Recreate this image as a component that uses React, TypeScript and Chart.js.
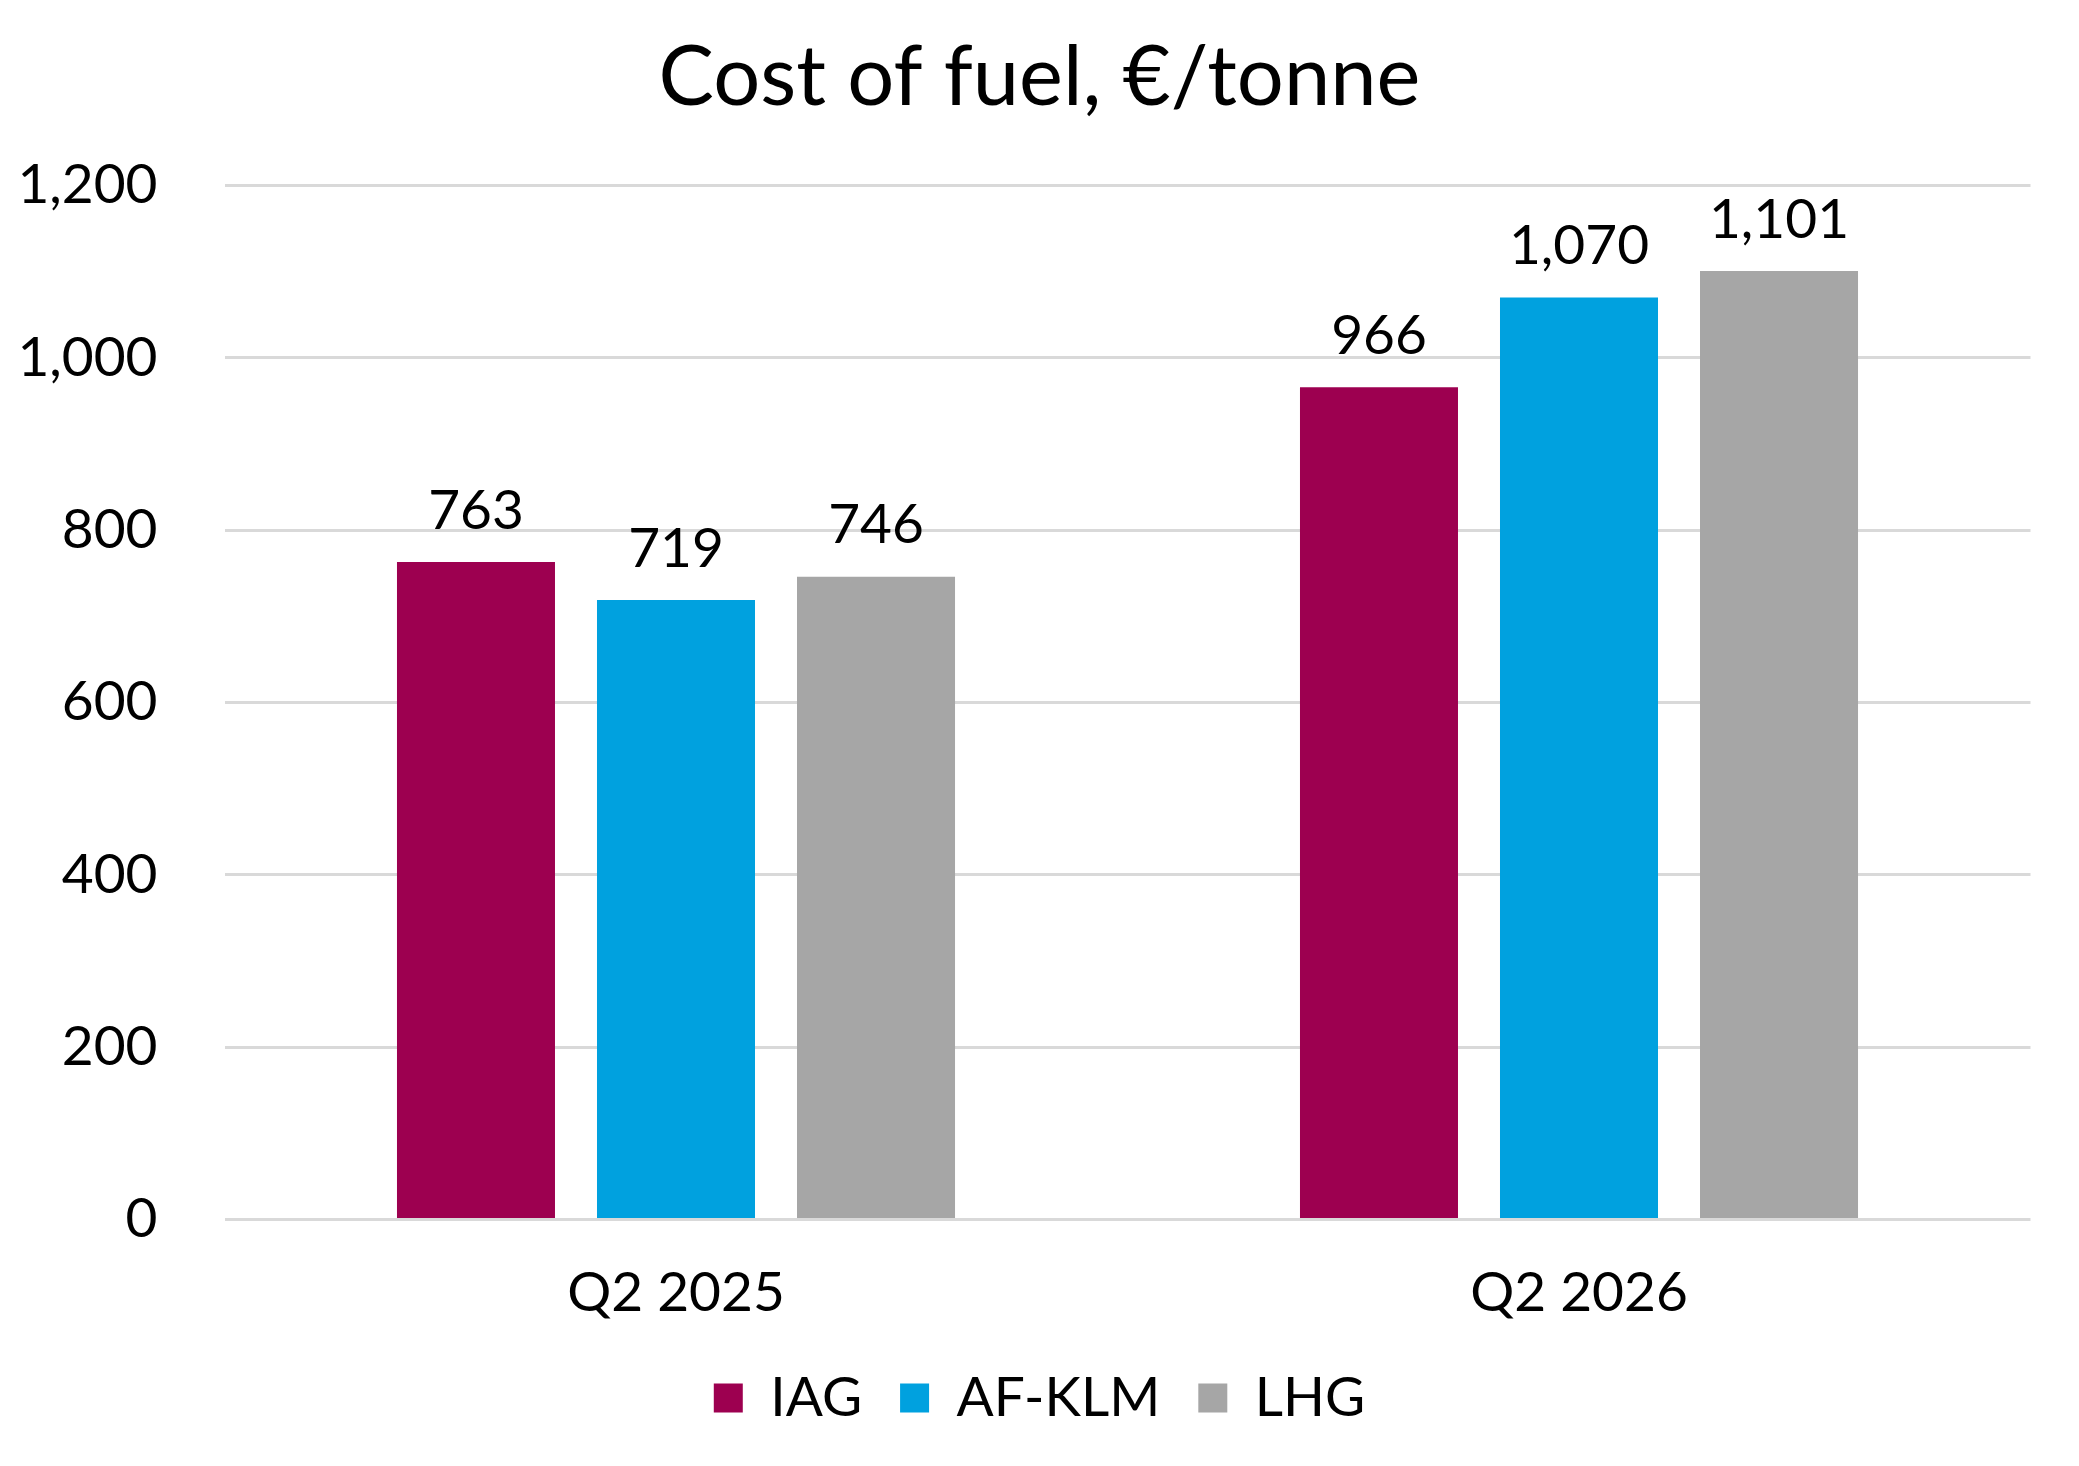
import { useEffect, useRef } from "react"
import { Chart, registerables } from "chart.js"
import type { Plugin } from "chart.js"

Chart.register(...registerables)

const quarters = ["Q2 2025", "Q2 2026"]
const iagCost = [763, 966]
const afKlmCost = [719, 1070]
const lhgCost = [746, 1101]
const yTicks = [0, 200, 400, 600, 800, 1000, 1200]

const FONT = "Lato, 'Noto Sans', sans-serif"

// draws the value above each bar, like Excel data labels
const valueLabels: Plugin<"bar"> = {
  id: "valueLabels",
  afterDatasetsDraw(chart) {
    const { ctx } = chart
    ctx.save()
    ctx.font = `55px ${FONT}`
    ctx.fillStyle = "#000"
    ctx.textAlign = "center"
    ctx.textBaseline = "middle"
    chart.data.datasets.forEach((ds, i) => {
      const meta = chart.getDatasetMeta(i)
      if (meta.hidden) return
      meta.data.forEach((bar, j) => {
        const v = ds.data[j] as number
        ctx.fillText(v.toLocaleString("en-US"), bar.x, bar.y - 51)
      })
    })
    ctx.restore()
  },
}

export default function App() {
  const canvasRef = useRef<HTMLCanvasElement>(null)
  const chartInstance = useRef<Chart | null>(null)

  useEffect(() => {
    document.body.style.margin = "0"
    if (!canvasRef.current) return

    if (chartInstance.current) {
      chartInstance.current.destroy()
    }

    const ctx = canvasRef.current.getContext("2d")
    if (!ctx) return

    Chart.defaults.font.family = FONT
    Chart.defaults.color = "#000"

    chartInstance.current = new Chart(ctx, {
      type: "bar",
      data: {
        labels: quarters,
        datasets: [
          { label: "IAG", data: iagCost, backgroundColor: "#9d0050" },
          { label: "AF-KLM", data: afKlmCost, backgroundColor: "#00a1df" },
          { label: "LHG", data: lhgCost, backgroundColor: "#a6a6a6" },
        ],
      },
      options: {
        responsive: true,
        maintainAspectRatio: false,
        animation: false,
        devicePixelRatio: 1,
        layout: { padding: { left: 0, right: 0, top: 0, bottom: 30.5 } },
        datasets: {
          bar: { categoryPercentage: 0.6645, barPercentage: 0.79 },
        },
        scales: {
          x: {
            grid: { display: false, drawTicks: false },
            border: { display: false },
            ticks: { font: { size: 55 }, padding: 41 },
            afterFit: (scale) => {
              scale.height = 113
            },
          },
          y: {
            min: 0,
            max: 1200,
            afterBuildTicks: (scale) => {
              scale.ticks = yTicks.map((value) => ({ value }))
            },
            grid: { color: "#d9d9d9", lineWidth: 3, drawTicks: false },
            border: { display: false },
            ticks: {
              font: { size: 55 },
              padding: 67,
              callback: (v) => Number(v).toLocaleString("en-US"),
            },
            afterFit: (scale) => {
              scale.width = 224.5
            },
          },
          // empty right-hand axis, only keeps the plot clear of the right edge
          yRight: {
            position: "right",
            grid: { display: false, drawTicks: false },
            border: { display: false },
            ticks: { display: false },
            afterFit: (scale) => {
              scale.width = 48.5
            },
          },
        },
        plugins: {
          title: {
            display: true,
            text: "Cost of fuel, €/tonne",
            font: { size: 83, weight: "normal" },
            color: "#000",
            padding: { top: 28, bottom: 58 },
          },
          legend: {
            position: "bottom",
            labels: {
              font: { size: 55 },
              boxWidth: 29,
              boxHeight: 29,
              padding: 38,
              color: "#000",
            },
          },
          tooltip: { enabled: false },
        },
      },
      plugins: [valueLabels],
    })

    return () => {
      if (chartInstance.current) {
        chartInstance.current.destroy()
        chartInstance.current = null
      }
    }
  }, [])

  return (
    <div style={{ width: 2079, height: 1466, position: "relative" }}>
      <canvas ref={canvasRef} />
    </div>
  )
}
